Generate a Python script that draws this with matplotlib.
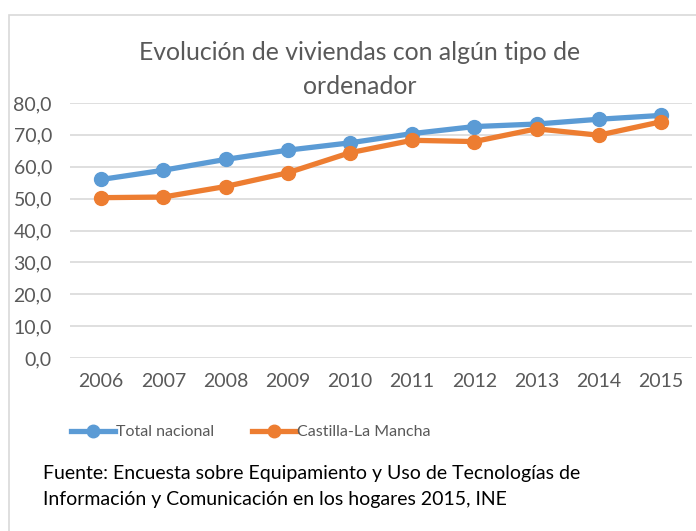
import numpy as np
import matplotlib.pyplot as plt
from matplotlib.lines import Line2D
from matplotlib.patches import Rectangle

# datos
years = [2006, 2007, 2008, 2009, 2010, 2011, 2012, 2013, 2014, 2015]
total_nacional = [56.0, 58.9, 62.3, 65.2, 67.5, 70.4, 72.6, 73.4, 74.9, 76.1]
castilla_la_mancha = [50.3, 50.5, 53.8, 58.1, 64.4, 68.3, 67.9, 71.9, 69.9, 74.1]
yticks = [0, 10, 20, 30, 40, 50, 60, 70, 80]

azul = '#5B9BD5'
naranja = '#ED7D31'
gris = '#595959'

plt.rcParams['font.family'] = ['Lato', 'DejaVu Sans']

fig = plt.figure(figsize=(6.96, 5.31), dpi=100)

# borde del grafico (estilo Excel)
fig.patches.append(Rectangle((9/696, -0.01), 700/696, 1 - 15/531 + 0.01,
                             transform=fig.transFigure, fill=False,
                             edgecolor='#D9D9D9', linewidth=1.2))

ax = fig.add_axes([70/696, 1 - 358/531, (692 - 70)/696, (358 - 103)/531])

x = np.arange(len(years))
ax.plot(x, total_nacional, color=azul, linewidth=3.8, marker='o', markersize=10,
        solid_capstyle='round', zorder=3)
ax.plot(x, castilla_la_mancha, color=naranja, linewidth=3.8, marker='o', markersize=10,
        solid_capstyle='round', zorder=4)

ax.set_xlim(-0.5, len(years) - 0.5)
ax.set_ylim(0, 80)
ax.set_yticks(yticks)
ax.set_yticklabels(['%d,0' % v for v in yticks])
ax.set_xticks(x)
ax.set_xticklabels([str(y) for y in years])
ax.yaxis.grid(True, color='#D9D9D9', linewidth=1.2)
ax.set_axisbelow(True)
for s in ax.spines.values():
    s.set_visible(False)
ax.tick_params(length=0, labelsize=14, labelcolor=gris)
ax.tick_params(axis='x', pad=11)
ax.tick_params(axis='y', pad=13)

fig.text(360/696, 1 - 52/531, 'Evolución de viviendas con algún tipo de',
         ha='center', va='center', fontsize=17.8, color=gris)
fig.text(360/696, 1 - 86/531, 'ordenador',
         ha='center', va='center', fontsize=17.8, color=gris)

# leyenda
handles = [Line2D([], [], color=azul, linewidth=3.8, marker='o', markersize=9),
           Line2D([], [], color=naranja, linewidth=3.8, marker='o', markersize=9)]
fig.legend(handles, ['Total nacional', 'Castilla-La Mancha'],
           loc='center', bbox_to_anchor=(251/696, 1 - 432/531), ncol=2,
           frameon=False, fontsize=11.5, labelcolor=gris, handlelength=2.75,
           handletextpad=0.05, columnspacing=2.4, borderpad=0, borderaxespad=0)

fig.text(43/696, 1 - 473/531,
         'Fuente: Encuesta sobre Equipamiento y Uso de Tecnologías de',
         ha='left', va='center', fontsize=14, color='black')
fig.text(43/696, 1 - 500/531,
         'Información y Comunicación en los hogares 2015, INE',
         ha='left', va='center', fontsize=14, color='black')

fig.savefig('out.png', dpi=100)
